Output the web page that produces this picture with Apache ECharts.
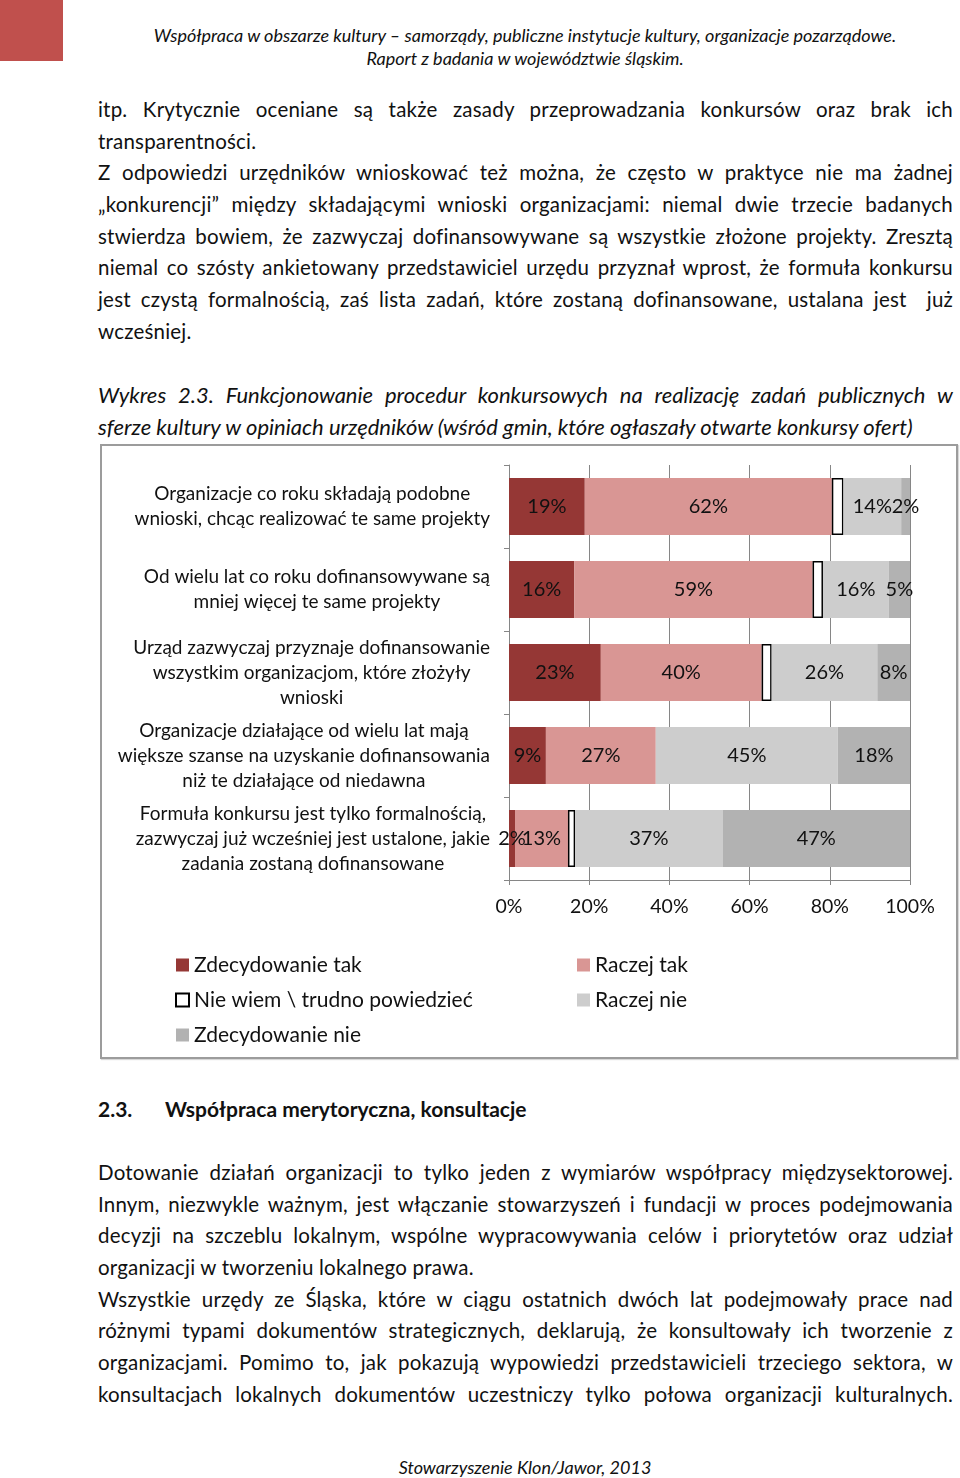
<!DOCTYPE html>
<html lang="pl">
<head>
<meta charset="utf-8">
<title>Wykres 2.3</title>
<script src="https://cdn.jsdelivr.net/npm/echarts@6/dist/echarts.min.js"></script>
<style>
  html, body { margin: 0; padding: 0; background: #fff; }
  body { width: 960px; height: 1478px; position: relative; overflow: hidden;
         font-family: Lato, "Open Sans", sans-serif; color: #111; }
  .abs { position: absolute; }
  .redbox { left: 0; top: 0; width: 63px; height: 61px; background: #c0504d; }
  .head { left: 90px; width: 870px; top: 24px; text-align: center; font-style: italic;
          font-size: 18px; line-height: 23px; }
  .txt { left: 98px; width: 855px; font-size: 20.5px; letter-spacing: 0.2px; line-height: 31.7px; }
  .txt div { height: 31.7px; }
  .j { text-align: justify; text-align-last: justify; }
  .l { text-align: left; }
  .it { font-style: italic; font-size: 22px; letter-spacing: 0; }
  .h2 { top: 1093px; font-weight: bold; font-size: 21px; line-height: 31.7px; }
  .foot { left: 90px; width: 870px; top: 1456px; text-align: center; font-style: italic;
          font-size: 18px; line-height: 23px; }
  #chart { left: 100px; top: 444px; width: 858px; height: 615px; box-sizing: border-box;
           border: 2px solid #9c9c9c; box-shadow: 1px 1px 1px #d8d8d8; }
</style>
</head>
<body>
<div class="abs redbox"></div>
<div class="abs head">
  <div>Współpraca w obszarze kultury – samorządy, publiczne instytucje kultury, organizacje pozarządowe.</div>
  <div>Raport z badania w województwie śląskim.</div>
</div>

<div class="abs txt" style="top:94px">
  <div class="j">itp. Krytycznie oceniane są także zasady przeprowadzania konkursów oraz brak ich</div>
  <div class="l">transparentności.</div>
  <div class="j">Z odpowiedzi urzędników wnioskować też można, że często w praktyce nie ma żadnej</div>
  <div class="j">„konkurencji” między składającymi wnioski organizacjami: niemal dwie trzecie badanych</div>
  <div class="j">stwierdza bowiem, że zazwyczaj dofinansowywane są wszystkie złożone projekty. Zresztą</div>
  <div class="j">niemal co szósty ankietowany przedstawiciel urzędu przyznał wprost, że formuła konkursu</div>
  <div class="j">jest czystą formalnością, zaś lista zadań, które zostaną dofinansowane, ustalana jest &nbsp;już</div>
  <div class="l">wcześniej.</div>
</div>

<div class="abs txt it" style="top:379px">
  <div class="j">Wykres 2.3. Funkcjonowanie procedur konkursowych na realizację zadań publicznych w</div>
  <div class="l">sferze kultury w opiniach urzędników (wśród gmin, które ogłaszały otwarte konkursy ofert)</div>
</div>

<div id="chart" class="abs"></div>

<div class="abs h2" style="left:98px">2.3.</div>
<div class="abs h2" style="left:165px">Współpraca merytoryczna, konsultacje</div>

<div class="abs txt" style="top:1157px">
  <div class="j">Dotowanie działań organizacji to tylko jeden z wymiarów współpracy międzysektorowej.</div>
  <div class="j">Innym, niezwykle ważnym, jest włączanie stowarzyszeń i fundacji w proces podejmowania</div>
  <div class="j">decyzji na szczeblu lokalnym, wspólne wypracowywania celów i priorytetów oraz udział</div>
  <div class="l">organizacji w tworzeniu lokalnego prawa.</div>
  <div class="j">Wszystkie urzędy ze Śląska, które w ciągu ostatnich dwóch lat podejmowały prace nad</div>
  <div class="j">różnymi typami dokumentów strategicznych, deklarują, że konsultowały ich tworzenie z</div>
  <div class="j">organizacjami. Pomimo to, jak pokazują wypowiedzi przedstawicieli trzeciego sektora, w</div>
  <div class="j">konsultacjach lokalnych dokumentów uczestniczy tylko połowa organizacji kulturalnych.</div>
</div>

<div class="abs foot">Stowarzyszenie Klon/Jawor, 2013</div>

<script>
// kategorie (od góry do dołu)
const categories = [
  'Organizacje co roku składają podobne\nwnioski, chcąc realizować te same projekty',
  'Od wielu lat co roku dofinansowywane są\nmniej więcej te same projekty',
  'Urząd zazwyczaj przyznaje dofinansowanie\nwszystkim organizacjom, które złożyły\nwnioski',
  'Organizacje działające od wielu lat mają\nwiększe szanse na uzyskanie dofinansowania\nniż te działające od niedawna',
  'Formuła konkursu jest tylko formalnością,\nzazwyczaj już wcześniej jest ustalone, jakie\nzadania zostaną dofinansowane'
];

// odsetki (%)
const zdecydowanieTak = [18.9, 16.3, 22.9, 9.2, 1.5];
const raczejTak = [61.6, 59.4, 40.1, 27.4, 13.2];
const nieWiem = [2.9, 2.6, 2.5, 0, 1.8];
const raczejNie = [14.4, 16.4, 26.35, 45.4, 36.75];
const zdecydowanieNie = [2.2, 5.3, 8.15, 18.0, 46.75];

const xTicks = [0, 20, 40, 60, 80, 100];

const FONT = 'Lato, "Open Sans", sans-serif';
const AXIS_GRAY = '#868686';

const seriesDefs = [
  { name: 'Zdecydowanie tak', data: zdecydowanieTak, color: '#953735' },
  { name: 'Raczej tak', data: raczejTak, color: '#d99694' },
  { name: 'Nie wiem \\ trudno powiedzieć', data: nieWiem, color: '#ffffff', border: true },
  { name: 'Raczej nie', data: raczejNie, color: '#cdcdcd' },
  { name: 'Zdecydowanie nie', data: zdecydowanieNie, color: '#b2b2b2' }
];

const myChart = echarts.init(document.getElementById('chart'));

const legendText = { fontSize: 21, lineHeight: 22, color: '#111', fontFamily: FONT };

myChart.setOption({
  animation: false,
  textStyle: { fontFamily: FONT },
  grid: { left: 407, right: 46, top: 19, bottom: 177 },
  legend: [
    {
      orient: 'vertical', left: 73, top: 508, padding: 0,
      itemWidth: 13, itemHeight: 13, itemGap: 13, icon: 'rect',
      textStyle: legendText,
      data: ['Zdecydowanie tak', 'Nie wiem \\ trudno powiedzieć', 'Zdecydowanie nie']
    },
    {
      orient: 'vertical', left: 475, top: 508, padding: 0,
      itemWidth: 13, itemHeight: 13, itemGap: 13, icon: 'rect',
      textStyle: legendText,
      data: ['Raczej tak', 'Raczej nie']
    }
  ],
  xAxis: {
    type: 'value',
    min: xTicks[0],
    max: xTicks[xTicks.length - 1],
    interval: xTicks[1] - xTicks[0],
    axisLine: { show: true, lineStyle: { color: AXIS_GRAY } },
    axisTick: { show: true, length: 5, lineStyle: { color: AXIS_GRAY } },
    splitLine: { show: true, lineStyle: { color: AXIS_GRAY, width: 1 } },
    axisLabel: { formatter: '{value}%', fontSize: 19.5, color: '#111', margin: 17, fontFamily: FONT }
  },
  yAxis: {
    type: 'category',
    inverse: true,
    data: categories,
    axisLine: { show: true, lineStyle: { color: AXIS_GRAY } },
    axisTick: { show: true, length: 5, lineStyle: { color: AXIS_GRAY } },
    axisLabel: {
      interval: 0,
      margin: 19,
      formatter: function (v) {
        return v.split('\n').map(function (s) { return '{c|' + s + '}'; }).join('\n');
      },
      rich: {
        c: { align: 'center', fontSize: 19, lineHeight: 25, color: '#111', fontFamily: FONT }
      }
    }
  },
  series: seriesDefs.map(function (d) {
    return {
      name: d.name,
      type: 'bar',
      stack: 'total',
      barWidth: 57,
      // 0 = brak odpowiedzi, nie rysujemy pustego prostokąta
      data: d.data.map(function (v) { return v === 0 ? '-' : v; }),
      itemStyle: d.border
        ? { color: d.color, borderColor: '#000', borderWidth: 1.5 }
        : { color: d.color },
      label: {
        show: !d.border,
        position: 'inside',
        color: '#111',
        fontSize: 20,
        fontFamily: FONT,
        formatter: function (p) { return Math.round(p.value) + '%'; }
      }
    };
  })
});
</script>
</body>
</html>
